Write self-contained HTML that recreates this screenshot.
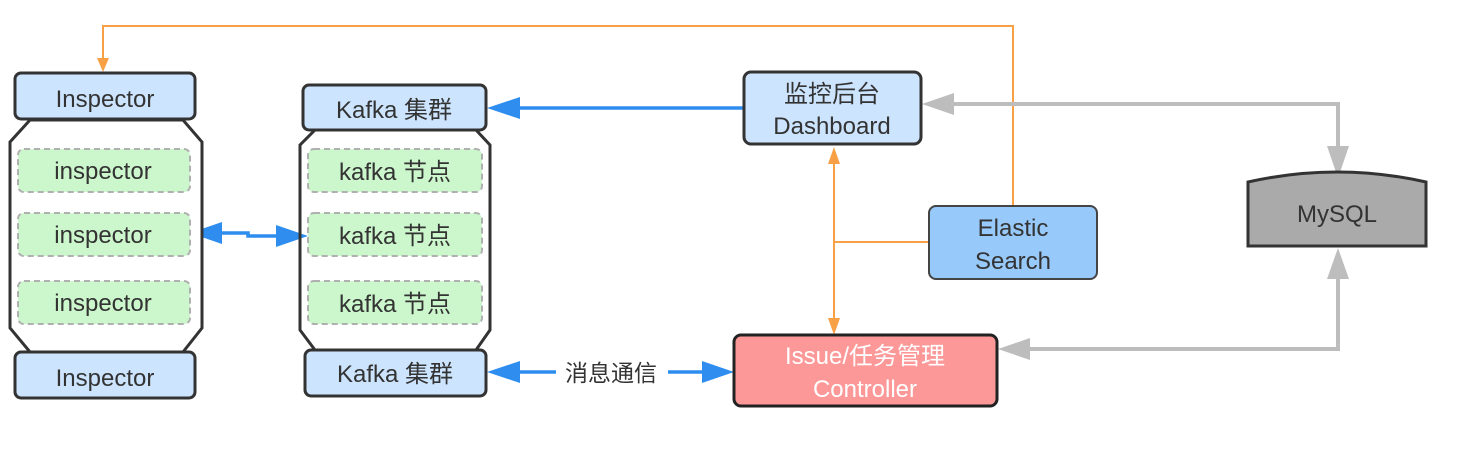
<!DOCTYPE html>
<html><head><meta charset="utf-8"><style>
body{margin:0;background:#fff;}
svg text{font-family:"Liberation Sans","Noto Sans CJK SC",sans-serif;fill:#333;}
</style></head><body>
<svg width="1460" height="446" viewBox="0 0 1460 446" xmlns="http://www.w3.org/2000/svg">
<!-- orange lines -->
<g stroke="#f7a046" stroke-width="2" fill="none">
<polyline points="1013,206 1013,26 103,26 103,62"/>
<line x1="834" y1="160" x2="834" y2="320"/>
<line x1="834" y1="242" x2="929" y2="242"/>
</g>
<polygon points="97,58 109,58 103,72" fill="#f7a046"/>
<polygon points="828,164 840,164 834,147" fill="#f7a046"/>
<polygon points="828,318 840,318 834,335" fill="#f7a046"/>
<!-- gray lines -->
<g stroke="#bdbdbd" stroke-width="4" fill="none">
<polyline points="940,104 1338,104 1338,160"/>
<polyline points="1015,349 1338,349 1338,265"/>
</g>
<polygon points="922,104 954,93 954,115" fill="#bdbdbd"/>
<polygon points="1327,146 1349,146 1338,178" fill="#bdbdbd"/>
<polygon points="998,349 1030,338 1030,360" fill="#bdbdbd"/>
<polygon points="1327,279 1349,279 1338,248" fill="#bdbdbd"/>
<!-- blue lines -->
<g stroke="#2f8df0" stroke-width="3.5" fill="none">
<line x1="515" y1="108" x2="744" y2="108"/>
<polyline points="215,233 248,233 248,236 285,236"/>
<line x1="510" y1="372" x2="556" y2="372"/>
<line x1="668" y1="372" x2="712" y2="372"/>
</g>
<polygon points="487,108 520,97 520,119" fill="#2f8df0"/>
<polygon points="190,233 222,222 222,244" fill="#2f8df0"/>
<polygon points="308,236 276,225 276,247" fill="#2f8df0"/>
<polygon points="487,372 520,361 520,383" fill="#2f8df0"/>
<polygon points="734,372 702,361 702,383" fill="#2f8df0"/>
<text x="611" y="381" font-size="23" text-anchor="middle">消息通信</text>
<!-- inspector column -->
<polygon points="30,120 183,120 202,142 202,328 183,352 30,352 10,328 10,142" fill="#fff" stroke="#333" stroke-width="3"/>
<rect x="15" y="73" width="180" height="46" rx="6" fill="#cce4fd" stroke="#333" stroke-width="3"/>
<rect x="15" y="352" width="180" height="46" rx="6" fill="#cce4fd" stroke="#333" stroke-width="3"/>
<text x="105" y="107" font-size="24" text-anchor="middle">Inspector</text>
<text x="105" y="386" font-size="24" text-anchor="middle">Inspector</text>
<g fill="#ccf7cc" stroke="#b0b0b0" stroke-width="2" stroke-dasharray="6,4">
<rect x="18" y="149" width="172" height="43" rx="6"/>
<rect x="18" y="213" width="172" height="43" rx="6"/>
<rect x="18" y="281" width="172" height="43" rx="6"/>
<rect x="308" y="149" width="174" height="43" rx="6"/>
<rect x="308" y="213" width="174" height="43" rx="6"/>
<rect x="308" y="281" width="174" height="43" rx="6"/>
</g>
<text x="103" y="179" font-size="24" text-anchor="middle">inspector</text>
<text x="103" y="243" font-size="24" text-anchor="middle">inspector</text>
<text x="103" y="311" font-size="24" text-anchor="middle">inspector</text>
<!-- kafka column -->
<polygon points="315,130 476,130 490,145 490,330 476,350 315,350 300,330 300,145" fill="none" stroke="#333" stroke-width="3"/>
<rect x="303" y="85" width="183" height="45" rx="6" fill="#cce4fd" stroke="#333" stroke-width="3"/>
<rect x="305" y="350" width="181" height="46" rx="6" fill="#cce4fd" stroke="#333" stroke-width="3"/>
<text x="394" y="118" font-size="24" text-anchor="middle">Kafka 集群</text>
<text x="395" y="382" font-size="24" text-anchor="middle">Kafka 集群</text>
<text x="395" y="180" font-size="24" text-anchor="middle">kafka 节点</text>
<text x="395" y="244" font-size="24" text-anchor="middle">kafka 节点</text>
<text x="395" y="312" font-size="24" text-anchor="middle">kafka 节点</text>
<!-- dashboard -->
<rect x="744" y="72" width="177" height="72" rx="7" fill="#cce4fd" stroke="#333" stroke-width="3"/>
<text x="832" y="102" font-size="24" text-anchor="middle">监控后台</text>
<text x="832" y="134" font-size="24" text-anchor="middle">Dashboard</text>
<!-- elastic -->
<rect x="929" y="206" width="168" height="73" rx="7" fill="#98c9fb" stroke="#444" stroke-width="2"/>
<text x="1013" y="236" font-size="24" text-anchor="middle">Elastic</text>
<text x="1013" y="269" font-size="24" text-anchor="middle">Search</text>
<!-- mysql -->
<path d="M1248,246 L1248,182 Q1337,162 1426,182 L1426,246 Z" fill="#aaa" stroke="#333" stroke-width="3"/>
<text x="1337" y="222" font-size="24" text-anchor="middle">MySQL</text>
<!-- controller -->
<rect x="734" y="335" width="263" height="71" rx="7" fill="#fd9898" stroke="#222" stroke-width="3"/>
<text x="865" y="364" font-size="24" text-anchor="middle" style="fill:#fff">Issue/任务管理</text>
<text x="865" y="397" font-size="24" text-anchor="middle" style="fill:#fff">Controller</text>
</svg>
</body></html>
